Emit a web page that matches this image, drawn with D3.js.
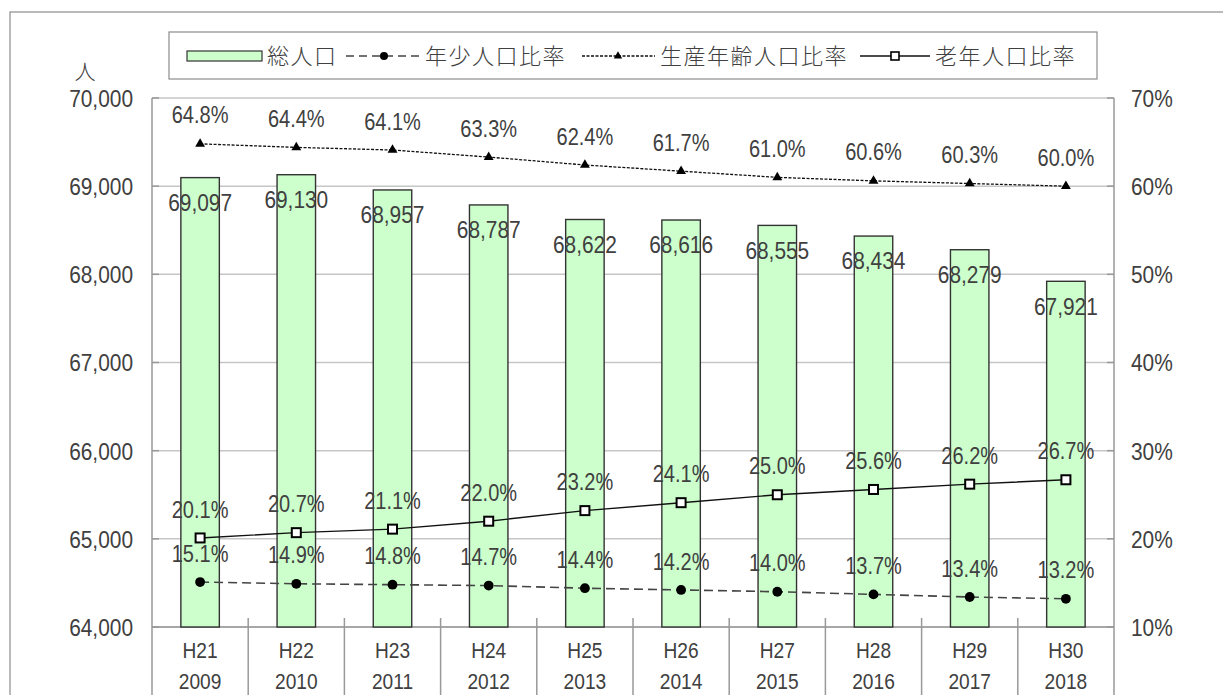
<!DOCTYPE html>
<html lang="ja">
<head>
<meta charset="utf-8">
<script src="https://cdn.jsdelivr.net/npm/d3@7"></script>
<style>
  html, body { margin: 0; padding: 0; background: #fff; }
  svg { display: block; }
  text { font-family: "Liberation Sans", Arial, sans-serif; fill: #404040; }
  .jp { font-family: "Noto Sans CJK JP", "Noto Sans", sans-serif; }
</style>
</head>
<body>
<svg id="chart" width="1223" height="695"></svg>
<script>
// 年度ラベル
const eraLabels = ["H21", "H22", "H23", "H24", "H25", "H26", "H27", "H28", "H29", "H30"];
const yearLabels = ["2009", "2010", "2011", "2012", "2013", "2014", "2015", "2016", "2017", "2018"];
// 総人口（人）
const population = [69097, 69130, 68957, 68787, 68622, 68616, 68555, 68434, 68279, 67921];
// 年少・生産年齢・老年人口比率（%）
const youthRatio = [15.1, 14.9, 14.8, 14.7, 14.4, 14.2, 14.0, 13.7, 13.4, 13.2];
const workingRatio = [64.8, 64.4, 64.1, 63.3, 62.4, 61.7, 61.0, 60.6, 60.3, 60.0];
const elderlyRatio = [20.1, 20.7, 21.1, 22.0, 23.2, 24.1, 25.0, 25.6, 26.2, 26.7];
// 軸目盛
const leftTicks = [64000, 65000, 66000, 67000, 68000, 69000, 70000];
const rightTicks = [10, 20, 30, 40, 50, 60, 70];

// 数字は縦長の書体に見せるため横方向を少し詰める
const FS = 24, SX = 0.87;
const svg = d3.select("#chart");
const plot = { left: 152, right: 1114, top: 98, bottom: 627 };

const x = d3.scaleBand().domain(eraLabels).range([plot.left, plot.right]).paddingInner(0).paddingOuter(0);
const yL = d3.scaleLinear().domain([64000, 70000]).range([plot.bottom, plot.top]);
const yR = d3.scaleLinear().domain([10, 70]).range([plot.bottom, plot.top]);
const cx = i => x(eraLabels[i]) + x.bandwidth() / 2;

// 詰めた数字テキストを置く
function placeNarrow(sel, fx, fy) {
  sel.attr("x", 0).attr("y", 0).attr("dy", "0.35em")
    .attr("transform", (d, i) => `translate(${fx(d, i)},${fy(d, i)}) scale(${SX},1)`);
}

// 外枠
svg.append("rect").attr("x", 10).attr("y", 12).attr("width", 1300).attr("height", 800)
  .attr("fill", "none").attr("stroke", "#8c8c8c").attr("stroke-width", 1.2);

// 目盛線
svg.append("g").selectAll("line").data(leftTicks).join("line")
  .attr("x1", plot.left).attr("x2", plot.right)
  .attr("y1", d => yL(d)).attr("y2", d => yL(d))
  .attr("stroke", "#c6c6c6").attr("stroke-width", 1.5);

// 左軸
const leftAxis = d3.axisLeft(yL).tickValues(leftTicks).tickSize(0).tickPadding(19)
  .tickFormat(d3.format(","));
const gL = svg.append("g").attr("transform", `translate(${plot.left},0)`).call(leftAxis);
gL.select(".domain").remove();
gL.selectAll("text").attr("font-size", FS).attr("fill", "#404040").attr("font-family", null)
  .attr("x", -19 / SX).attr("dy", "0.35em").attr("transform", `scale(${SX},1)`);

// 右軸
const rightAxis = d3.axisRight(yR).tickValues(rightTicks).tickSize(0).tickPadding(17)
  .tickFormat(d => d + "%");
const gR = svg.append("g").attr("transform", `translate(${plot.right},0)`).call(rightAxis);
gR.select(".domain").remove();
gR.selectAll("text").attr("font-size", FS).attr("fill", "#404040").attr("font-family", null)
  .attr("x", 17 / SX).attr("dy", "0.35em").attr("transform", `scale(${SX},1)`);

// 軸の内向き目盛
svg.append("g").selectAll("line").data(leftTicks).join("line")
  .attr("x1", plot.left).attr("x2", plot.left + 7)
  .attr("y1", d => yL(d)).attr("y2", d => yL(d)).attr("stroke", "#999").attr("stroke-width", 1.5);
svg.append("g").selectAll("line").data(rightTicks).join("line")
  .attr("x1", plot.right - 7).attr("x2", plot.right)
  .attr("y1", d => yR(d)).attr("y2", d => yR(d)).attr("stroke", "#999").attr("stroke-width", 1.5);

// 軸線と項目区切り線
svg.append("line").attr("x1", plot.left).attr("x2", plot.left).attr("y1", plot.top).attr("y2", 695)
  .attr("stroke", "#999").attr("stroke-width", 1.5);
svg.append("line").attr("x1", plot.right).attr("x2", plot.right).attr("y1", plot.top).attr("y2", 695)
  .attr("stroke", "#999").attr("stroke-width", 1.5);
svg.append("line").attr("x1", plot.left).attr("x2", plot.right).attr("y1", plot.bottom).attr("y2", plot.bottom)
  .attr("stroke", "#999").attr("stroke-width", 1.5);
const bounds = eraLabels.slice(1).map(d => x(d));
svg.append("g").selectAll("line").data(bounds).join("line")
  .attr("x1", d => d).attr("x2", d => d).attr("y1", plot.bottom - 9).attr("y2", 695)
  .attr("stroke", "#999").attr("stroke-width", 1.5);

// 項目ラベル
const gx = svg.append("g").attr("font-size", FS - 2).attr("text-anchor", "middle");
gx.selectAll("text.era").data(eraLabels).join("text").attr("class", "era")
  .call(placeNarrow, (d, i) => cx(i), () => 650).text(d => d);
gx.selectAll("text.yr").data(yearLabels).join("text").attr("class", "yr")
  .call(placeNarrow, (d, i) => cx(i), () => 681).text(d => d);

// 単位
svg.append("text").attr("class", "jp").attr("x", 85).attr("y", 72).attr("dy", "0.35em")
  .attr("text-anchor", "middle").attr("font-size", 21).attr("font-weight", 300).text("人");

// 総人口の棒
const barW = x.bandwidth() * 0.4;
svg.append("g").selectAll("rect").data(population).join("rect")
  .attr("x", (d, i) => cx(i) - barW / 2).attr("width", barW)
  .attr("y", d => yL(d)).attr("height", d => plot.bottom - yL(d))
  .attr("fill", "#ccffcc").attr("stroke", "#333").attr("stroke-width", 1.4);

// 折れ線
const lineGen = scale => d3.line().x((d, i) => cx(i)).y(d => scale(d));
svg.append("path").datum(youthRatio).attr("d", lineGen(yR))
  .attr("fill", "none").attr("stroke", "#444").attr("stroke-width", 1.6).attr("stroke-dasharray", "9,5");
svg.append("path").datum(workingRatio).attr("d", lineGen(yR))
  .attr("fill", "none").attr("stroke", "#111").attr("stroke-width", 1.3).attr("stroke-dasharray", "3,1.5");
svg.append("path").datum(elderlyRatio).attr("d", lineGen(yR))
  .attr("fill", "none").attr("stroke", "#111").attr("stroke-width", 1.4);

// マーカー
const tri = d3.symbol().type(d3.symbolTriangle).size(42);
svg.append("g").selectAll("circle").data(youthRatio).join("circle")
  .attr("cx", (d, i) => cx(i)).attr("cy", d => yR(d)).attr("r", 4.9).attr("fill", "#000");
svg.append("g").selectAll("path").data(workingRatio).join("path")
  .attr("d", tri).attr("transform", (d, i) => `translate(${cx(i)},${yR(d)})`).attr("fill", "#000");
svg.append("g").selectAll("rect").data(elderlyRatio).join("rect")
  .attr("x", (d, i) => cx(i) - 4.5).attr("y", d => yR(d) - 4.5).attr("width", 9).attr("height", 9)
  .attr("fill", "#fff").attr("stroke", "#000").attr("stroke-width", 2);

// データラベル
const fmtPop = d3.format(",");
const fmtPct = d => d.toFixed(1) + "%";
const labels = svg.append("g").attr("font-size", FS - 1).attr("text-anchor", "middle");
labels.selectAll("text.pop").data(population).join("text").attr("class", "pop")
  .attr("font-size", FS)
  .call(placeNarrow, (d, i) => cx(i), d => yL(d) + 25)
  .text(d => fmtPop(d));
[workingRatio, elderlyRatio, youthRatio].forEach(series => {
  labels.append("g").selectAll("text").data(series).join("text")
    .call(placeNarrow, (d, i) => cx(i), d => yR(d) - 28.5)
    .text(d => fmtPct(d));
});

// 凡例
const lg = svg.append("g");
lg.append("rect").attr("x", 169).attr("y", 32).attr("width", 928).attr("height", 47)
  .attr("fill", "#fff").attr("stroke", "#8c8c8c").attr("stroke-width", 1.2);
const ly = 56;
lg.append("rect").attr("x", 187).attr("y", ly - 5).attr("width", 75).attr("height", 10)
  .attr("fill", "#ccffcc").attr("stroke", "#333").attr("stroke-width", 1.2);
lg.append("line").attr("x1", 346).attr("x2", 420).attr("y1", ly).attr("y2", ly)
  .attr("stroke", "#444").attr("stroke-width", 1.6).attr("stroke-dasharray", "8,5");
lg.append("circle").attr("cx", 384).attr("cy", ly).attr("r", 4).attr("fill", "#000");
lg.append("line").attr("x1", 582).attr("x2", 655).attr("y1", ly).attr("y2", ly)
  .attr("stroke", "#111").attr("stroke-width", 1.3).attr("stroke-dasharray", "3,1.5");
lg.append("path").attr("d", d3.symbol().type(d3.symbolTriangle).size(30))
  .attr("transform", `translate(618,${ly})`).attr("fill", "#000");
lg.append("line").attr("x1", 860).attr("x2", 930).attr("y1", ly).attr("y2", ly)
  .attr("stroke", "#111").attr("stroke-width", 1.4);
lg.append("rect").attr("x", 891).attr("y", ly - 4).attr("width", 8).attr("height", 8)
  .attr("fill", "#fff").attr("stroke", "#000").attr("stroke-width", 1.6);
const legendNames = [["総人口", 267], ["年少人口比率", 425], ["生産年齢人口比率", 660], ["老年人口比率", 935]];
lg.selectAll("text").data(legendNames).join("text").attr("class", "jp")
  .attr("x", d => d[1]).attr("y", ly).attr("dy", "0.35em").attr("font-size", 22)
  .attr("letter-spacing", 1.5).attr("font-weight", 300)
  .attr("fill", "#333").text(d => d[0]);
</script>
</body>
</html>
